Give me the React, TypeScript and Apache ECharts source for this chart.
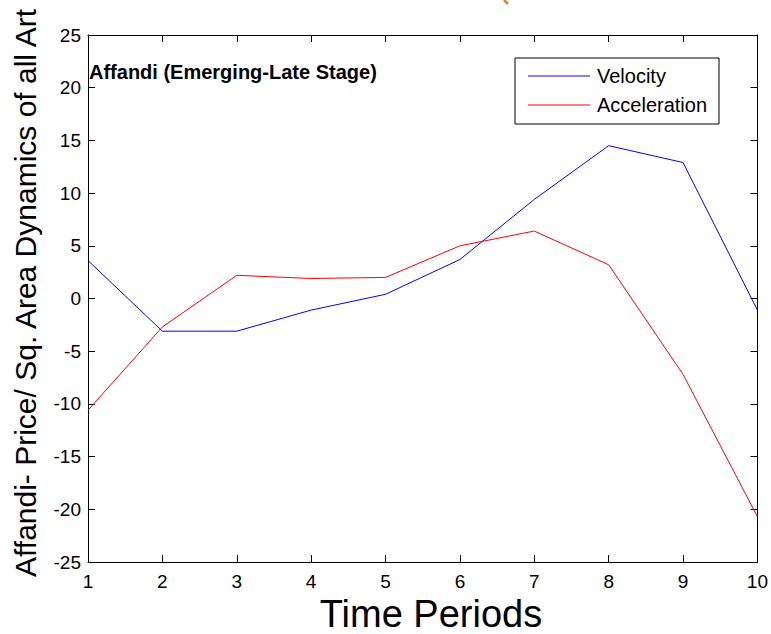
import React, { useEffect, useRef } from "react";
import * as echarts from "echarts";

const periods = [1, 2, 3, 4, 5, 6, 7, 8, 9, 10];
const velocity = [3.6, -3.1, -3.1, -1.1, 0.4, 3.7, 9.4, 14.5, 12.9, -1.1];
const acceleration = [-10.6, -2.7, 2.2, 1.9, 2.0, 5.0, 6.4, 3.2, -7.2, -20.7];
const seriesNames = ["Velocity", "Acceleration"];
const seriesColors = ["#0000ff", "#ff0000"];
const chartTitle = "Affandi (Emerging-Late Stage)";
const xTitle = "Time Periods";
const yTitle = "Affandi- Price/ Sq. Area Dynamics of all Art";

const FONT = "'Liberation Sans', Arial, sans-serif";

export default function App() {
  const ref = useRef<HTMLDivElement>(null);
  useEffect(() => {
    if (!ref.current) return;
    const chart = echarts.init(ref.current, null, { renderer: "svg" });
    const axisLine = { show: true, onZero: false, lineStyle: { color: "#000", width: 1 } };
    const axisTick = { show: true, inside: true, length: 7, lineStyle: { color: "#000", width: 1 } };
    const legendGraphics: any[] = [
      {
        type: "rect",
        shape: { x: 515, y: 58, width: 204, height: 66 },
        style: { fill: "#fff", stroke: "#000", lineWidth: 1 },
        z: 10,
      },
    ];
    seriesNames.forEach((name, i) => {
      const y = 76 + i * 29;
      legendGraphics.push({
        type: "line",
        shape: { x1: 528, y1: y, x2: 590, y2: y },
        style: { stroke: seriesColors[i], lineWidth: 1 },
        z: 11,
      });
      legendGraphics.push({
        type: "text",
        x: 597,
        y: y,
        style: {
          text: name,
          fill: "#000",
          font: `20px ${FONT}`,
          align: "left",
          verticalAlign: "middle",
        },
        z: 11,
      });
    });
    chart.setOption({
      animation: false,
      backgroundColor: "#fff",
      grid: { left: 88, right: 1, top: 35, bottom: 72, containLabel: false },
      xAxis: [
        {
          type: "value",
          min: 1,
          max: 10,
          interval: 1,
          position: "bottom",
          axisLine,
          axisTick,
          splitLine: { show: false },
          axisLabel: { color: "#000", fontSize: 19, fontFamily: FONT, margin: 10 },
        },
        {
          type: "value",
          min: 1,
          max: 10,
          interval: 1,
          position: "top",
          axisLine,
          axisTick,
          splitLine: { show: false },
          axisLabel: { show: false },
        },
      ],
      yAxis: [
        {
          type: "value",
          min: -25,
          max: 25,
          interval: 5,
          position: "left",
          axisLine,
          axisTick,
          splitLine: { show: false },
          axisLabel: { color: "#000", fontSize: 19, fontFamily: FONT, margin: 7 },
        },
        {
          type: "value",
          min: -25,
          max: 25,
          interval: 5,
          position: "right",
          axisLine,
          axisTick,
          splitLine: { show: false },
          axisLabel: { show: false },
        },
      ],
      series: [
        {
          name: seriesNames[0],
          type: "line",
          data: periods.map((p, i) => [p, velocity[i]]),
          showSymbol: false,
          lineStyle: { color: seriesColors[0], width: 1 },
          itemStyle: { color: seriesColors[0] },
        },
        {
          name: seriesNames[1],
          type: "line",
          data: periods.map((p, i) => [p, acceleration[i]]),
          showSymbol: false,
          lineStyle: { color: seriesColors[1], width: 1 },
          itemStyle: { color: seriesColors[1] },
        },
      ],
      graphic: [
        {
          type: "text",
          x: 89,
          y: 72,
          style: {
            text: chartTitle,
            fill: "#000",
            font: `bold 20px ${FONT}`,
            align: "left",
            verticalAlign: "middle",
          },
          z: 10,
        },
        {
          type: "text",
          x: 431,
          y: 614,
          style: {
            text: xTitle,
            fill: "#000",
            font: `38px ${FONT}`,
            align: "center",
            verticalAlign: "middle",
          },
        },
        {
          type: "text",
          x: 25,
          y: 577,
          rotation: Math.PI / 2,
          style: {
            text: yTitle,
            fill: "#000",
            font: `30px ${FONT}`,
            align: "left",
            verticalAlign: "middle",
          },
        },
        {
          type: "polyline",
          shape: { points: [[504, 0], [506, 2], [508, 4]] },
          style: { stroke: "#f47b20", lineWidth: 2.5, fill: "none" },
        },
        ...legendGraphics,
      ],
    });
    return () => chart.dispose();
  }, []);
  return (
    <div
      ref={ref}
      style={{ position: "fixed", left: 0, top: 0, width: 771, height: 634 }}
    />
  );
}
